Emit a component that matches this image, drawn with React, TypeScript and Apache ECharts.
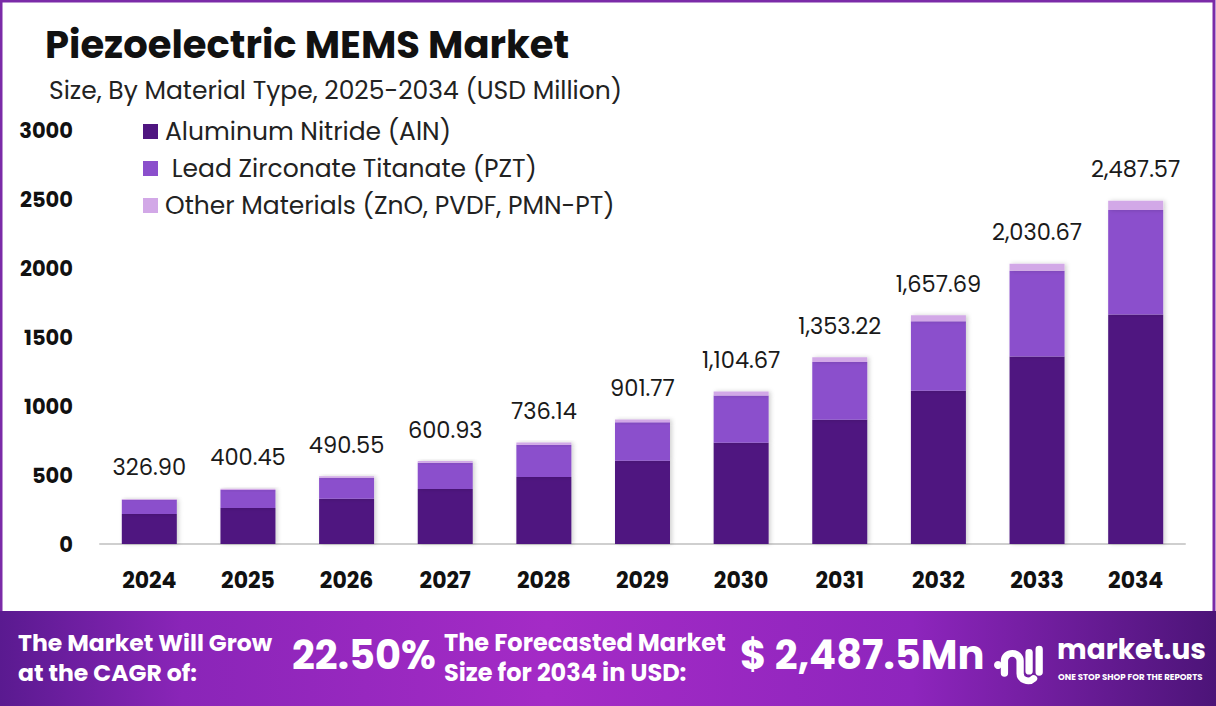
import React, { useEffect, useRef } from "react";
import * as echarts from "echarts";

const years = ["2024", "2025", "2026", "2027", "2028", "2029", "2030", "2031", "2032", "2033", "2034"];
const aln = [218, 261, 327, 399, 486, 603, 733, 900, 1111, 1358, 1663];
const pzt = [102, 130, 152.5, 189, 234, 280, 343, 419, 503, 622, 757];
const other = [6.9, 9.45, 11.05, 12.93, 16.14, 18.77, 28.67, 34.22, 43.69, 50.67, 67.57];
const totals = [326.9, 400.45, 490.55, 600.93, 736.14, 901.77, 1104.67, 1353.22, 1657.69, 2030.67, 2487.57];
const yTicks = [0, 500, 1000, 1500, 2000, 2500, 3000];

const FONT = "Poppins, 'Noto Sans', sans-serif";
const LOGO_D = "M12 26 V14 A7 7 0 0 1 26 14 V26 A7 7 0 0 0 38 31 M34 6 V24 M43 3 V25";

let registered = false;
function ensureShape() {
  if (registered) return;
  echarts.graphic.registerShape("logo", echarts.graphic.extendPath(LOGO_D, {}) as any);
  registered = true;
}

function fmt(v: number) {
  return v.toLocaleString("en-US", { minimumFractionDigits: 2, maximumFractionDigits: 2 });
}

function footText(text: string, left: number, top: number, size: number) {
  return {
    type: "text",
    z: 102,
    left,
    top,
    style: { text, fill: "#fff", font: `bold ${size}px ${FONT}` },
  };
}

export default function App() {
  const ref = useRef<HTMLDivElement>(null);
  useEffect(() => {
    if (!ref.current) return;
    ensureShape();
    const chart = echarts.init(ref.current, null, { renderer: "svg" });
    const shadow = { shadowColor: "rgba(0,0,0,0.18)", shadowBlur: 4, shadowOffsetX: 2 };
    chart.setOption({
      animation: false,
      backgroundColor: "#ffffff",
      textStyle: { fontFamily: FONT },
      title: [
        {
          text: "Piezoelectric MEMS Market",
          left: 40,
          top: 20,
          textStyle: { fontSize: 38.5, fontWeight: "bold", color: "#111", fontFamily: FONT },
        },
        {
          text: "Size, By Material Type, 2025-2034 (USD Million)",
          left: 44,
          top: 73,
          textStyle: { fontSize: 25, fontWeight: "normal", color: "#222", fontFamily: FONT },
        },
      ],
      legend: {
        orient: "vertical",
        left: 138,
        top: 114,
        itemWidth: 15,
        itemHeight: 15,
        itemGap: 12,
        icon: "rect",
        textStyle: { fontSize: 25, color: "#222", fontFamily: FONT, padding: [0, 0, 0, 2] },
        data: ["Aluminum Nitride (AlN)", " Lead Zirconate Titanate (PZT)", "Other Materials (ZnO, PVDF, PMN-PT)"],
      },
      grid: { left: 100, right: 31, top: 130, bottom: 162, containLabel: false },
      xAxis: {
        type: "category",
        data: years,
        axisLine: { lineStyle: { color: "#cfcfcf", width: 2 } },
        axisTick: { show: false },
        axisLabel: { fontSize: 22, fontWeight: "bold", color: "#111", margin: 25, fontFamily: FONT },
      },
      yAxis: {
        type: "value",
        min: yTicks[0],
        max: yTicks[yTicks.length - 1],
        interval: 500,
        splitLine: { show: false },
        axisLine: { show: false },
        axisTick: { show: false },
        axisLabel: {
          fontSize: 21,
          fontWeight: "bold",
          color: "#111",
          margin: 27,
          fontFamily: FONT,
          formatter: (v: number) => String(v),
        },
      },
      series: [
        {
          name: "Aluminum Nitride (AlN)",
          type: "bar",
          stack: "t",
          barWidth: 55,
          data: aln,
          itemStyle: { color: "#4f1680", ...shadow },
        },
        {
          name: " Lead Zirconate Titanate (PZT)",
          type: "bar",
          stack: "t",
          data: pzt,
          itemStyle: { color: "#8b4fcc", ...shadow },
        },
        {
          name: "Other Materials (ZnO, PVDF, PMN-PT)",
          type: "bar",
          stack: "t",
          data: other,
          itemStyle: { color: "#d2a8e7", ...shadow },
          label: {
            show: true,
            position: "top",
            distance: 20,
            fontSize: 22.5,
            color: "#1a1a1a",
            fontFamily: FONT,
            formatter: (p: any) => fmt(totals[p.dataIndex]),
          },
        },
      ],
      graphic: [
        {
          type: "rect",
          z: 100,
          shape: { x: 1, y: 1, width: 1213, height: 700 },
          style: { fill: "none", stroke: "#7b2ba8", lineWidth: 3 },
        },
        {
          type: "rect",
          z: 101,
          shape: { x: 0, y: 611, width: 1216, height: 95 },
          style: {
            fill: new echarts.graphic.LinearGradient(0, 0, 1, 0, [
              { offset: 0, color: "#5a1a90" },
              { offset: 0.15, color: "#8a25b8" },
              { offset: 0.45, color: "#a42bc6" },
              { offset: 0.75, color: "#8e25bd" },
              { offset: 1, color: "#4c1478" },
            ]),
          },
        },
        footText("The Market Will Grow", 18, 630, 23.5),
        footText("at the CAGR of:", 18, 660, 23.5),
        footText("22.50%", 292, 635, 40),
        footText("The Forecasted Market", 444, 630, 24),
        footText("Size for 2034 in USD:", 444, 660, 24),
        footText("$ 2,487.5Mn", 740, 635, 40),
        {
          type: "circle",
          z: 102,
          shape: { cx: 998, cy: 665, r: 4 },
          style: { fill: "#fff" },
        },
        {
          type: "logo",
          z: 102,
          x: 991,
          y: 646,
          scaleX: 1.12,
          scaleY: 1.05,
          style: { fill: "none", stroke: "#fff", lineWidth: 6.5, lineCap: "round" },
        },
        footText("market.us", 1057, 635, 28),
        {
          type: "text",
          z: 102,
          left: 1058,
          top: 672,
          style: { text: "ONE STOP SHOP FOR THE REPORTS", fill: "#fff", font: `bold 8.6px ${FONT}` },
        },
      ],
    });
    return () => chart.dispose();
  }, []);
  return (
    <div
      ref={ref}
      style={{ position: "fixed", left: 0, top: 0, width: 1216, height: 706 }}
    />
  );
}
